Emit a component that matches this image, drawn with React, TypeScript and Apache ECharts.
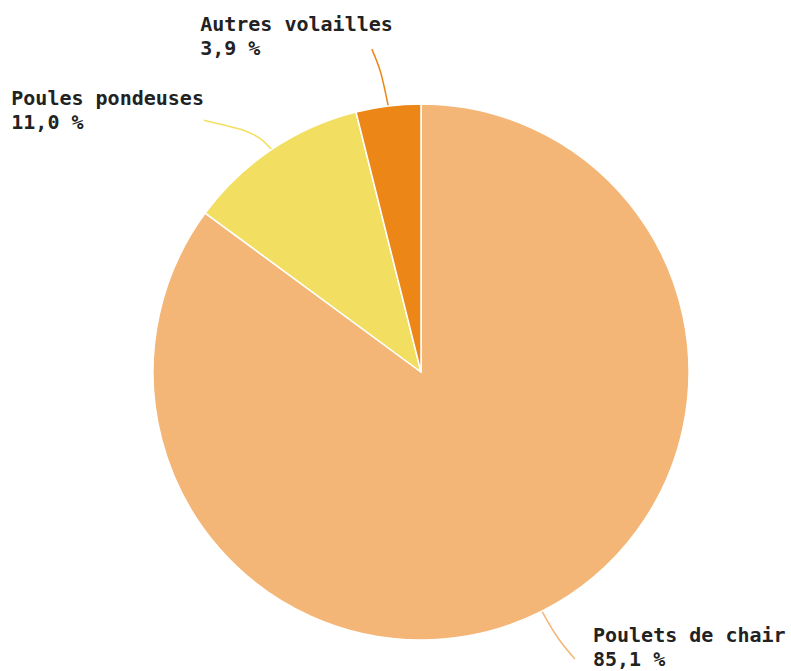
import React, { useEffect, useRef } from "react";
import * as echarts from "echarts";

const categories = ["Poulets de chair", "Poules pondeuses", "Autres volailles"];
const values = [85.1, 11.0, 3.9];
const colors = ["#F4B677", "#F2DF62", "#EC8717"];
// label offsets (relative to ECharts' own label placement)
const labelShiftX = [7, -21, 42];
const labelShiftY = [18, -26, -50];
// label line end anchor: fraction of label width + pixel offset, and y offset from label top
const lineEndFracX = [0, 1, 1];
const lineEndOffX = [-18, 0, -21];
const lineEndOffY = [36, 34, 37];
// bend of the label line (fraction between start and end)
const bendA = [0.45, 0.25, 0.44];
const bendB = [0.57, 0.58, 0.63];

export default function App() {
  const ref = useRef<HTMLDivElement>(null);
  useEffect(() => {
    if (!ref.current) return;
    const chart = echarts.init(ref.current, undefined, { renderer: "svg" });
    chart.setOption({
      animation: false,
      backgroundColor: "#ffffff",
      series: [
        {
          type: "pie",
          center: [421, 372],
          radius: 268,
          startAngle: 90,
          clockwise: true,
          data: categories.map((name, i) => ({
            name,
            value: values[i],
            itemStyle: { color: colors[i] },
          })),
          itemStyle: { borderColor: "#ffffff", borderWidth: 1.5 },
          label: {
            show: true,
            position: "outside",
            fontFamily: "DejaVu Sans Mono",
            fontWeight: "bold",
            fontSize: 20,
            lineHeight: 24,
            color: "#222222",
            formatter: (p: any) =>
              p.name + "\n" + p.value.toFixed(1).replace(".", ",") + " %",
          },
          labelLine: {
            show: true,
            length: 20,
            length2: 30,
            smooth: 0.4,
            lineStyle: { width: 1.5 },
          },
          labelLayout: (p: any) => {
            const i = p.dataIndex;
            const r = p.labelRect;
            const nx = r.x + labelShiftX[i];
            const ny = r.y + labelShiftY[i];
            const out: any = {
              x: nx,
              y: ny,
              align: "left",
              verticalAlign: "top",
            };
            const pts = p.labelLinePoints;
            if (pts && pts[0]) {
              const s = pts[0];
              const e = [nx + r.width * lineEndFracX[i] + lineEndOffX[i], ny + lineEndOffY[i]];
              const m = [s[0] + bendA[i] * (e[0] - s[0]), s[1] + bendB[i] * (e[1] - s[1])];
              out.labelLinePoints = [s, m, e];
            }
            return out;
          },
        },
      ],
    });
    return () => chart.dispose();
  }, []);
  return (
    <div
      ref={ref}
      style={{ position: "fixed", left: 0, top: 0, width: 791, height: 671 }}
    />
  );
}
